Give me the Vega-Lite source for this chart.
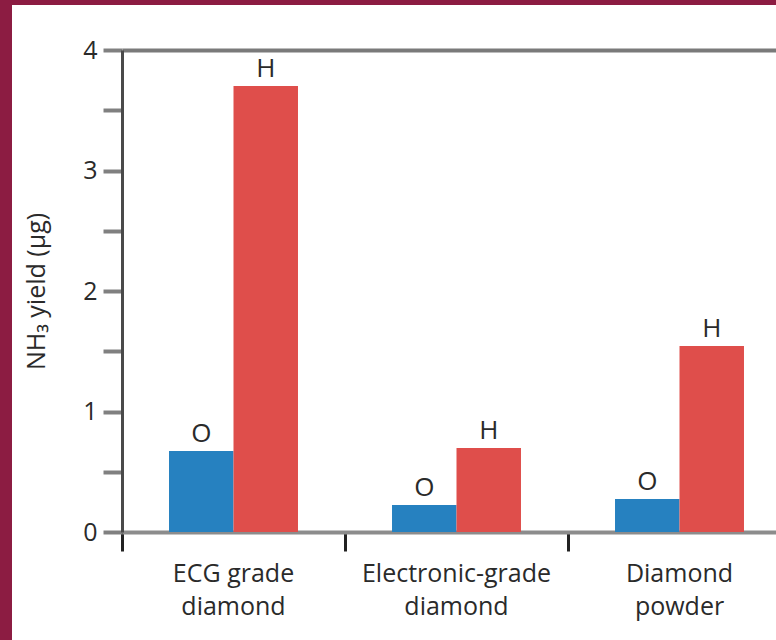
{
  "$schema": "https://vega.github.io/schema/vega-lite/v6.json",
  "width": 764,
  "height": 635,
  "autosize": {"type": "none"},
  "padding": {"left": 12, "top": 5, "right": 0, "bottom": 0},
  "background": "#8C1C42",
  "view": {"fill": "white", "stroke": null},
  "config": {
    "font": "Open Sans",
    "axis": {"labelFont": "Open Sans", "titleFont": "Open Sans"}
  },
  "data": {
    "values": [
      {"sample": "ECG grade diamond", "surface": "O", "yield": 0.672},
      {"sample": "ECG grade diamond", "surface": "H", "yield": 3.701},
      {"sample": "Electronic-grade diamond", "surface": "O", "yield": 0.224},
      {"sample": "Electronic-grade diamond", "surface": "H", "yield": 0.697},
      {"sample": "Diamond powder", "surface": "O", "yield": 0.274},
      {"sample": "Diamond powder", "surface": "H", "yield": 1.544}
    ]
  },
  "encoding": {
    "x": {
      "field": "sample",
      "type": "nominal",
      "sort": ["ECG grade diamond", "Electronic-grade diamond", "Diamond powder"],
      "scale": {"range": [110, 779], "paddingInner": 0, "paddingOuter": 0},
      "axis": {
        "title": null,
        "orient": "bottom",
        "offset": -108,
        "domainColor": "#8c8c8c",
        "domainWidth": 4,
        "bandPosition": 0,
        "tickColor": "#222222",
        "tickWidth": 3,
        "tickSize": 19,
        "labelAngle": 0,
        "labelFontSize": 25,
        "labelLimit": 400,
        "labelColor": "#2a2a2a",
        "labelLineHeight": 33,
        "labelPadding": 10,
        "labelBaseline": "top",
        "labelExpr": "[substring(datum.value, 0, lastindexof(datum.value, ' ')), substring(datum.value, lastindexof(datum.value, ' ') + 1)]"
      }
    },
    "xOffset": {
      "field": "surface",
      "type": "nominal",
      "sort": ["O", "H"],
      "scale": {"paddingInner": 0, "paddingOuter": 0.729}
    },
    "y": {
      "field": "yield",
      "type": "quantitative",
      "scale": {"domain": [0, 4], "range": [527, 45], "nice": false, "zero": true},
      "axis": {
        "title": "NH₃ yield (μg)",
        "titleFontSize": 25,
        "titleFontWeight": "normal",
        "titleColor": "#2a2a2a",
        "titlePadding": 33,
        "offset": -110,
        "values": [0, 0.5, 1, 1.5, 2, 2.5, 3, 3.5, 4],
        "labelExpr": "datum.value % 1 === 0 ? format(datum.value, 'd') : ''",
        "labelOverlap": false,
        "labelFontSize": 25,
        "labelColor": "#2a2a2a",
        "labelPadding": 6,
        "domainColor": "#4a4a4a",
        "domainWidth": 3,
        "tickColor": "#808080",
        "tickWidth": 4,
        "tickSize": 19,
        "grid": true,
        "gridWidth": 4,
        "gridColor": {"condition": {"test": "datum.value === 4", "value": "#7a7a7a"}, "value": "transparent"}
      }
    }
  },
  "layer": [
    {
      "mark": {"type": "bar"},
      "encoding": {
        "color": {
          "field": "surface",
          "type": "nominal",
          "scale": {"domain": ["O", "H"], "range": ["#2681C0", "#DF4E4B"]},
          "legend": null
        }
      }
    },
    {
      "mark": {"type": "text", "baseline": "alphabetic", "dy": -9, "fontSize": 26, "color": "#2a2a2a", "font": "Open Sans"},
      "encoding": {"text": {"field": "surface", "type": "nominal"}}
    }
  ]
}
